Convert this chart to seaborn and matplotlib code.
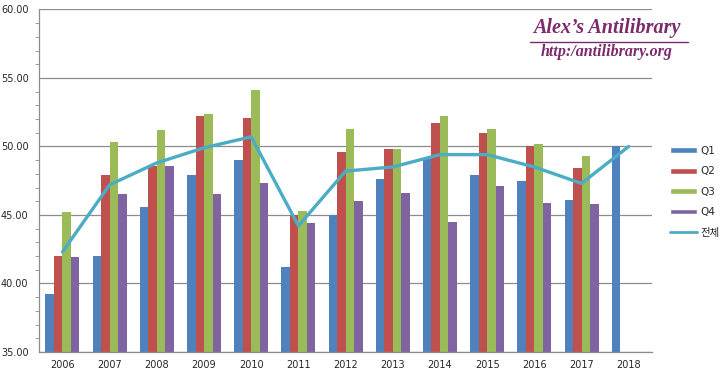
import numpy as np
import pandas as pd
import matplotlib
matplotlib.use("Agg")
import matplotlib.pyplot as plt
import matplotlib.ticker as mticker
from matplotlib.patches import Patch
from matplotlib.lines import Line2D
import seaborn as sns

# datos
years = ["2006", "2007", "2008", "2009", "2010", "2011", "2012",
         "2013", "2014", "2015", "2016", "2017", "2018"]
q1 = [39.2, 42.0, 45.6, 47.9, 49.0, 41.2, 45.0, 47.6, 49.1, 47.9, 47.5, 46.1, 50.0]
q2 = [42.0, 47.9, 48.6, 52.2, 52.1, 45.0, 49.6, 49.8, 51.7, 51.0, 50.0, 48.4, np.nan]
q3 = [45.2, 50.3, 51.2, 52.4, 54.1, 45.3, 51.3, 49.8, 52.2, 51.3, 50.2, 49.3, np.nan]
q4 = [41.9, 46.5, 48.6, 46.5, 47.3, 44.4, 46.0, 46.6, 44.5, 47.1, 45.9, 45.8, np.nan]
total = [42.3, 47.2, 48.8, 49.9, 50.7, 44.2, 48.2, 48.5, 49.4, 49.4, 48.5, 47.3, 50.0]
quarters = ["Q1", "Q2", "Q3", "Q4"]
total_label = "전체"

colors = ["#4F81BD", "#C0504D", "#9BBB59", "#8064A2"]
line_color = "#4BACC6"

data = pd.DataFrame({"year": years, "Q1": q1, "Q2": q2, "Q3": q3, "Q4": q4})
long = data.melt(id_vars="year", var_name="quarter", value_name="value").dropna()

sns.set_style("white")
plt.rcParams["font.family"] = ["DejaVu Sans", "Noto Sans CJK KR"]

fig = plt.figure(figsize=(7.2, 3.76), dpi=100)
ax = fig.add_axes([0.054, 0.064, 0.852, 0.911])

sns.barplot(data=long, x="year", y="value", hue="quarter", order=years,
            hue_order=quarters, palette=colors, width=0.72, errorbar=None,
            ax=ax, legend=False, saturation=1, linewidth=0)
sns.lineplot(x=np.arange(len(years)), y=total, color=line_color, lw=2.4, ax=ax)

ax.set_ylim(35, 60)
ax.set_xlim(-0.5, len(years) - 0.5)
ax.yaxis.set_major_locator(mticker.MultipleLocator(5))
ax.yaxis.set_minor_locator(mticker.MultipleLocator(1))
ax.yaxis.set_major_formatter(mticker.FormatStrFormatter("%.2f"))
ax.yaxis.grid(True, which="major", color="#8c8c8c", lw=0.9)
ax.set_axisbelow(True)

ax.set_xticks(np.arange(len(years) + 1) - 0.5)
ax.set_xticklabels([])
ax.set_xticks(np.arange(len(years)), minor=True)
ax.set_xticklabels(years, minor=True)
ax.tick_params(axis="x", which="major", length=4, color="#8c8c8c", direction="out")
ax.tick_params(axis="x", which="minor", length=0, labelsize=7, pad=6)
ax.tick_params(axis="y", which="major", length=4, color="#8c8c8c", labelsize=7, direction="out")
ax.tick_params(axis="y", which="minor", length=3, color="#8c8c8c", direction="out", left=True)
ax.set_xlabel("")
ax.set_ylabel("")

for s in ["top", "right"]:
    ax.spines[s].set_visible(False)
for s in ["left", "bottom"]:
    ax.spines[s].set_color("#8c8c8c")
    ax.spines[s].set_linewidth(0.9)

handles = [Patch(facecolor=c, label=q) for c, q in zip(colors, quarters)]
handles.append(Line2D([0], [0], color=line_color, lw=2, label=total_label))
fig.legend(handles=handles, loc="center left", bbox_to_anchor=(0.918, 0.49),
           frameon=False, fontsize=7.5, handlelength=2.6, handleheight=0.5,
           handletextpad=0.3, labelspacing=1.0)

# marca de agua
fig.text(0.843, 0.925, "Alex\u2019s Antilibrary", ha="center", va="center",
         family="Liberation Serif", weight="bold", style="italic",
         fontsize=14.5, color="#7B2A6C")
fig.add_artist(Line2D([0.736, 0.956], [0.889, 0.889], color="#7B2A6C", lw=1))
fig.text(0.843, 0.862, "http:/antilibrary.org", ha="center", va="center",
         family="Liberation Serif", weight="bold", style="italic",
         fontsize=11.5, color="#7B2A6C")

fig.savefig("out.png", dpi=100)
